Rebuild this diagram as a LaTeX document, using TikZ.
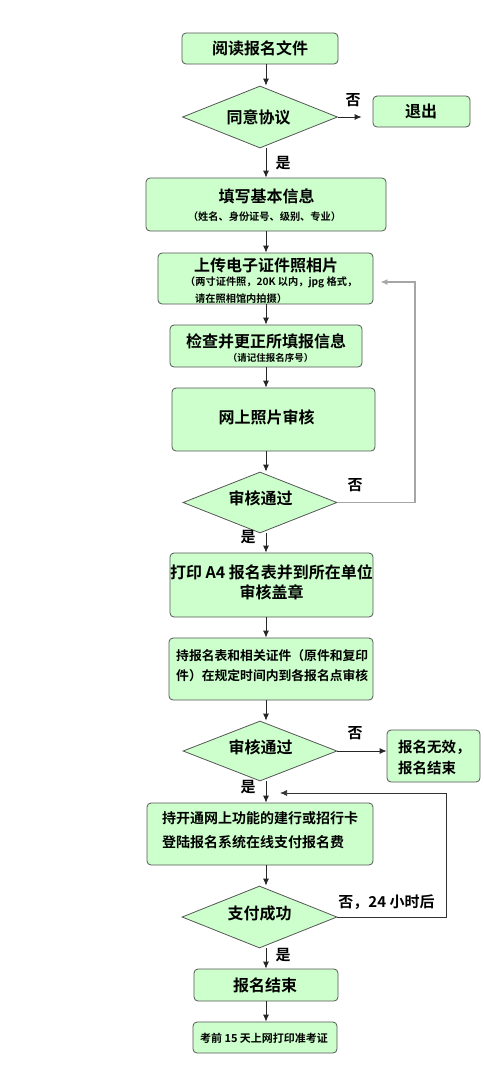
\documentclass[tikz,border=0pt]{standalone}
\usepackage{fontspec}
\setmainfont{Noto Sans CJK SC}[BoldFont={Noto Sans CJK SC Bold}]
\usetikzlibrary{shapes.geometric,arrows.meta}
\definecolor{boxgreen}{HTML}{CCFFCC}
\definecolor{edgegray}{HTML}{555555}
\tikzset{
  box/.style={draw=edgegray, fill=boxgreen, rounded corners=4pt, line width=0.8pt, inner sep=0pt},
  dia/.style={diamond, draw=edgegray, fill=boxgreen, shape aspect=2.5, inner sep=0pt, line width=0.8pt},
  arr/.style={-{Latex[length=7pt,width=6pt]}, line width=0.8pt, draw=black!85},
  fbline/.style={-{Latex[length=7pt,width=6pt]}, line width=1.6pt, draw=black!35},
  loopline/.style={-{Latex[length=7pt,width=6pt]}, line width=0.7pt, draw=black!80},
  tbig/.style={font=\bfseries\fontsize{16}{20}\selectfont, inner sep=0pt},
  tmid/.style={font=\bfseries\fontsize{14}{24}\selectfont, inner sep=0pt},
  tsub/.style={font=\bfseries\fontsize{10.2}{12}\selectfont, inner sep=0pt},
  tsmall/.style={font=\bfseries\fontsize{9.5}{12}\selectfont, inner sep=0pt},
  tlab/.style={font=\bfseries\fontsize{15}{18}\selectfont, inner sep=0pt},
}
\begin{document}
\begin{tikzpicture}[x=1pt,y=-1pt]
\useasboundingbox (0,0) rectangle (483,1077);
\coordinate (ax) at (266,0);
% boxes
\node[box, minimum width=156pt, minimum height=31pt] (b1) at (260,48.5) {};
\node[dia, minimum width=155pt, minimum height=62pt] (d1) at (260,117) {};
\node[box, minimum width=97pt, minimum height=31pt] (bx) at (421.5,111.5) {};
\node[box, minimum width=240pt, minimum height=53pt] (b2) at (266,204.5) {};
\node[box, minimum width=215pt, minimum height=51pt] (b3) at (265.5,278.5) {};
\node[box, minimum width=192pt, minimum height=42pt] (b4) at (266,346) {};
\node[box, minimum width=203pt, minimum height=63pt] (b5) at (273.5,419.5) {};
\node[dia, minimum width=154pt, minimum height=61pt] (d2) at (260,502.5) {};
\node[box, minimum width=203pt, minimum height=64pt] (b6) at (271.5,585) {};
\node[box, minimum width=204pt, minimum height=62pt] (b7) at (271,669) {};
\node[dia, minimum width=154pt, minimum height=60pt] (d3) at (260,751) {};
\node[box, minimum width=93pt, minimum height=52pt] (b8) at (433.5,756) {};
\node[box, minimum width=226pt, minimum height=62pt] (b9) at (260,834) {};
\node[dia, minimum width=155pt, minimum height=62pt] (d4) at (259.5,917) {};
\node[box, minimum width=144pt, minimum height=32pt] (b10) at (266,985) {};
\node[box, minimum width=144pt, minimum height=31pt] (b11) at (265,1037.5) {};
% texts
\node[tbig] (t1) at (260,48) {阅读报名文件};
\node[tbig] (t2) at (258.5,117) {同意协议};
\node[tbig] (tx) at (421,111) {退出};
\node[tbig] (t3) at (266.5,196) {填写基本信息};
\node[tsub] (t3s) at (264.5,217) {（姓名、身份证号、级别、专业）};
\node[tbig] (t4) at (266,265.5) {上传电子证件照相片};
\node[tsub, anchor=west] (t4s) at (185,282) {（两寸证件照，20K 以内，jpg 格式，};
\node[tsub, anchor=west] (t4t) at (195,298.5) {请在照相馆内拍摄）};
\node[tbig] (t5) at (266,341) {检查并更正所填报信息};
\node[tsmall] (t5s) at (270.5,358) {（请记住报名序号）};
\node[tbig] (t6) at (266.5,417) {网上照片审核};
\node[tbig] (t7) at (260.5,498) {审核通过};
\node[tbig, align=center] (t8) at (271.5,582) {打印 A4 报名表并到所在单位\\审核盖章};
\node[font=\bfseries\fontsize{12.8}{20}\selectfont, inner sep=0pt, align=left, anchor=west] (t9) at (176,666) {持报名表和相关证件（原件和复印\\件）在规定时间内到各报名点审核};
\node[tbig] (t10) at (260.5,747) {审核通过};
\node[tmid, align=left, anchor=west, font=\bfseries\fontsize{14.5}{21}\selectfont] (t11) at (398,757.5) {报名无效，\\报名结束};
\node[tmid, align=left, anchor=west] (t12) at (162,830) {持开通网上功能的建行或招行卡\\登陆报名系统在线支付报名费};
\node[tbig] (t13) at (259.5,913) {支付成功};
\node[tbig] (t14) at (265,985) {报名结束};
\node[font=\bfseries\fontsize{11}{13}\selectfont, inner sep=0pt] (t15) at (264,1038) {考前 15 天上网打印准考证};
% labels
\node[tlab] (l1) at (353,100) {否};
\node[tlab] (l2) at (283,163) {是};
\node[tlab] (l3) at (355,485) {否};
\node[tlab] (l4) at (248,537) {是};
\node[tlab] (l5) at (355,733) {否};
\node[tlab] (l6) at (248,787) {是};
\node[tlab] (l7) at (386.5,902) {否，24 小时后};
\node[tlab] (l8) at (283,955) {是};
% connectors
\coordinate (fbc) at (415,282);
\coordinate (lpc) at (446,793);
\draw[arr] (b1.south -| ax) -- (d1.north -| ax);
\draw[arr, shorten >=11pt] (d1.east) -- (bx.west |- d1.east);
\draw[arr] (d1.south -| ax) -- (b2.north -| ax);
\draw[arr] (b2.south -| ax) -- (b3.north -| ax);
\draw[arr] (b3.south -| ax) -- (b4.north -| ax);
\draw[arr] (b4.south -| ax) -- (b5.north -| ax);
\draw[arr] (b5.south -| ax) -- (d2.north -| ax);
\draw[fbline, shorten >=7pt] (d2.east) -| (fbc) -- (b3.east |- fbc);
\draw[arr] (d2.south -| ax) -- (b6.north -| ax);
\draw[arr] (b6.south -| ax) -- (b7.north -| ax);
\draw[arr] (b7.south -| ax) -- (d3.north -| ax);
\draw[arr] (d3.east) -- (b8.west |- d3.east);
\draw[arr] (d3.south -| ax) -- (b9.north -| ax);
\draw[loopline, shorten >=14pt] (d4.east) -| (lpc) -- (lpc -| ax);
\draw[arr] (b9.south -| ax) -- (d4.north -| ax);
\draw[arr] (d4.south -| ax) -- (b10.north -| ax);
\draw[arr] (b10.south -| ax) -- (b11.north -| ax);
\end{tikzpicture}
\end{document}
